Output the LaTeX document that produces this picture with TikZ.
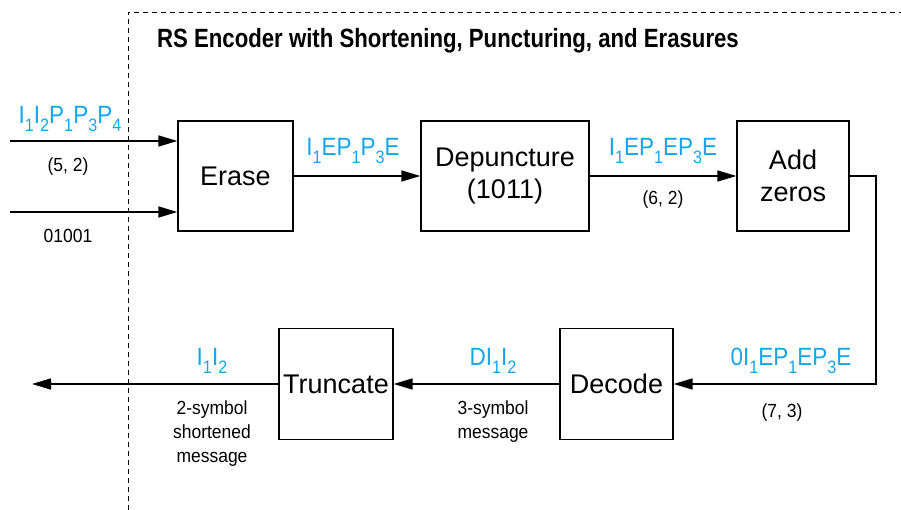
\documentclass[tikz,border=0pt]{standalone}
\usepackage{fontspec}
\setmainfont{Liberation Sans}
\newfontfamily\cond{Liberation Sans}[FakeStretch=0.84]
\newfontfamily\condb{Liberation Sans}[FakeStretch=0.9]
\newfontfamily\condc{Liberation Sans}[FakeStretch=0.92]
\usetikzlibrary{arrows.meta}
\definecolor{lblue}{RGB}{20,165,235}
\newcommand{\sbs}[1]{\raisebox{-0.32em}{\fontsize{18}{18}\selectfont #1}}
\begin{document}
\begin{tikzpicture}[x=1pt,y=-1pt,
  blockbox/.style={draw,line width=1.3pt,inner sep=0pt,align=center,font=\fontsize{27}{32}\selectfont},
  conn/.style={line width=1.6pt,-{Triangle[length=19pt,width=11pt]}},
  bluelbl/.style={text=lblue,anchor=base,inner sep=0pt,font=\condb\fontsize{25}{25}\selectfont},
  smalllbl/.style={anchor=base,inner sep=0pt,align=center,font=\condc\fontsize{19}{24}\selectfont},
  frame/.style={line width=0.9pt,dash pattern=on 5pt off 4pt}]
\useasboundingbox (0,0) rectangle (901,510);
% frame
\coordinate (ftop) at (128,12);
\coordinate (fbot) at (128,510);
\coordinate (fright) at (901,12);
\draw[frame] (fbot) -- (ftop) -- (fright);
\node[anchor=base west,inner sep=0pt,font=\cond\bfseries\fontsize{26.4}{27}\selectfont] (title) at (157,48) {RS Encoder with Shortening, Puncturing, and Erasures};
% blocks
\node[blockbox,minimum width=115,minimum height=110] (erase) at (235.5,176) {Erase};
\node[blockbox,minimum width=168,minimum height=110] (depunct) at (505,176) {Depuncture\\(1011)};
\node[blockbox,minimum width=112,minimum height=110] (addz) at (793,176) {Add\\zeros};
\node[blockbox,minimum width=113,minimum height=111] (decode) at (616.5,384) {Decode};
\node[blockbox,minimum width=114,minimum height=111] (trunc) at (336,384) {Truncate};
% connectors
\coordinate (in1) at (10,141);
\coordinate (in2) at (10,212);
\coordinate (corner1) at (876,176);
\coordinate (corner2) at (876,384);
\coordinate (out) at (32,384);
\draw[conn] (in1) -- (in1 -| erase.west);
\draw[conn] (in2) -- (in2 -| erase.west);
\draw[conn] (erase.east) -- (depunct.west);
\draw[conn] (depunct.east) -- (addz.west);
\draw[conn] (addz.east) -- (corner1) -- (corner2) -- (decode.east);
\draw[conn] (decode.west) -- (trunc.east);
\draw[conn] (trunc.west) -- (out);
% labels
\node[bluelbl] (l1) at (70,124) {I\sbs{1}I\sbs{2}P\sbs{1}P\sbs{3}P\sbs{4}};
\node[smalllbl] (l2) at (68,172) {(5, 2)};
\node[smalllbl] (l3) at (68,243) {01001};
\node[bluelbl] (l4) at (353,156) {I\sbs{1}EP\sbs{1}P\sbs{3}E};
\node[bluelbl] (l5) at (663,156) {I\sbs{1}EP\sbs{1}EP\sbs{3}E};
\node[smalllbl] (l6) at (663,205) {(6, 2)};
\node[bluelbl] (l7) at (791,365) {0I\sbs{1}EP\sbs{1}EP\sbs{3}E};
\node[smalllbl] (l8) at (782,417) {(7, 3)};
\node[bluelbl] (l9) at (493,365) {DI\sbs{1}I\sbs{2}};
\node[smalllbl] (l10) at (493,438) {3-symbol\\message};
\node[bluelbl] (l11) at (212,365) {I\sbs{1}I\sbs{2}};
\node[smalllbl] (l12) at (212,462) {2-symbol\\shortened\\message};
\end{tikzpicture}
\end{document}
